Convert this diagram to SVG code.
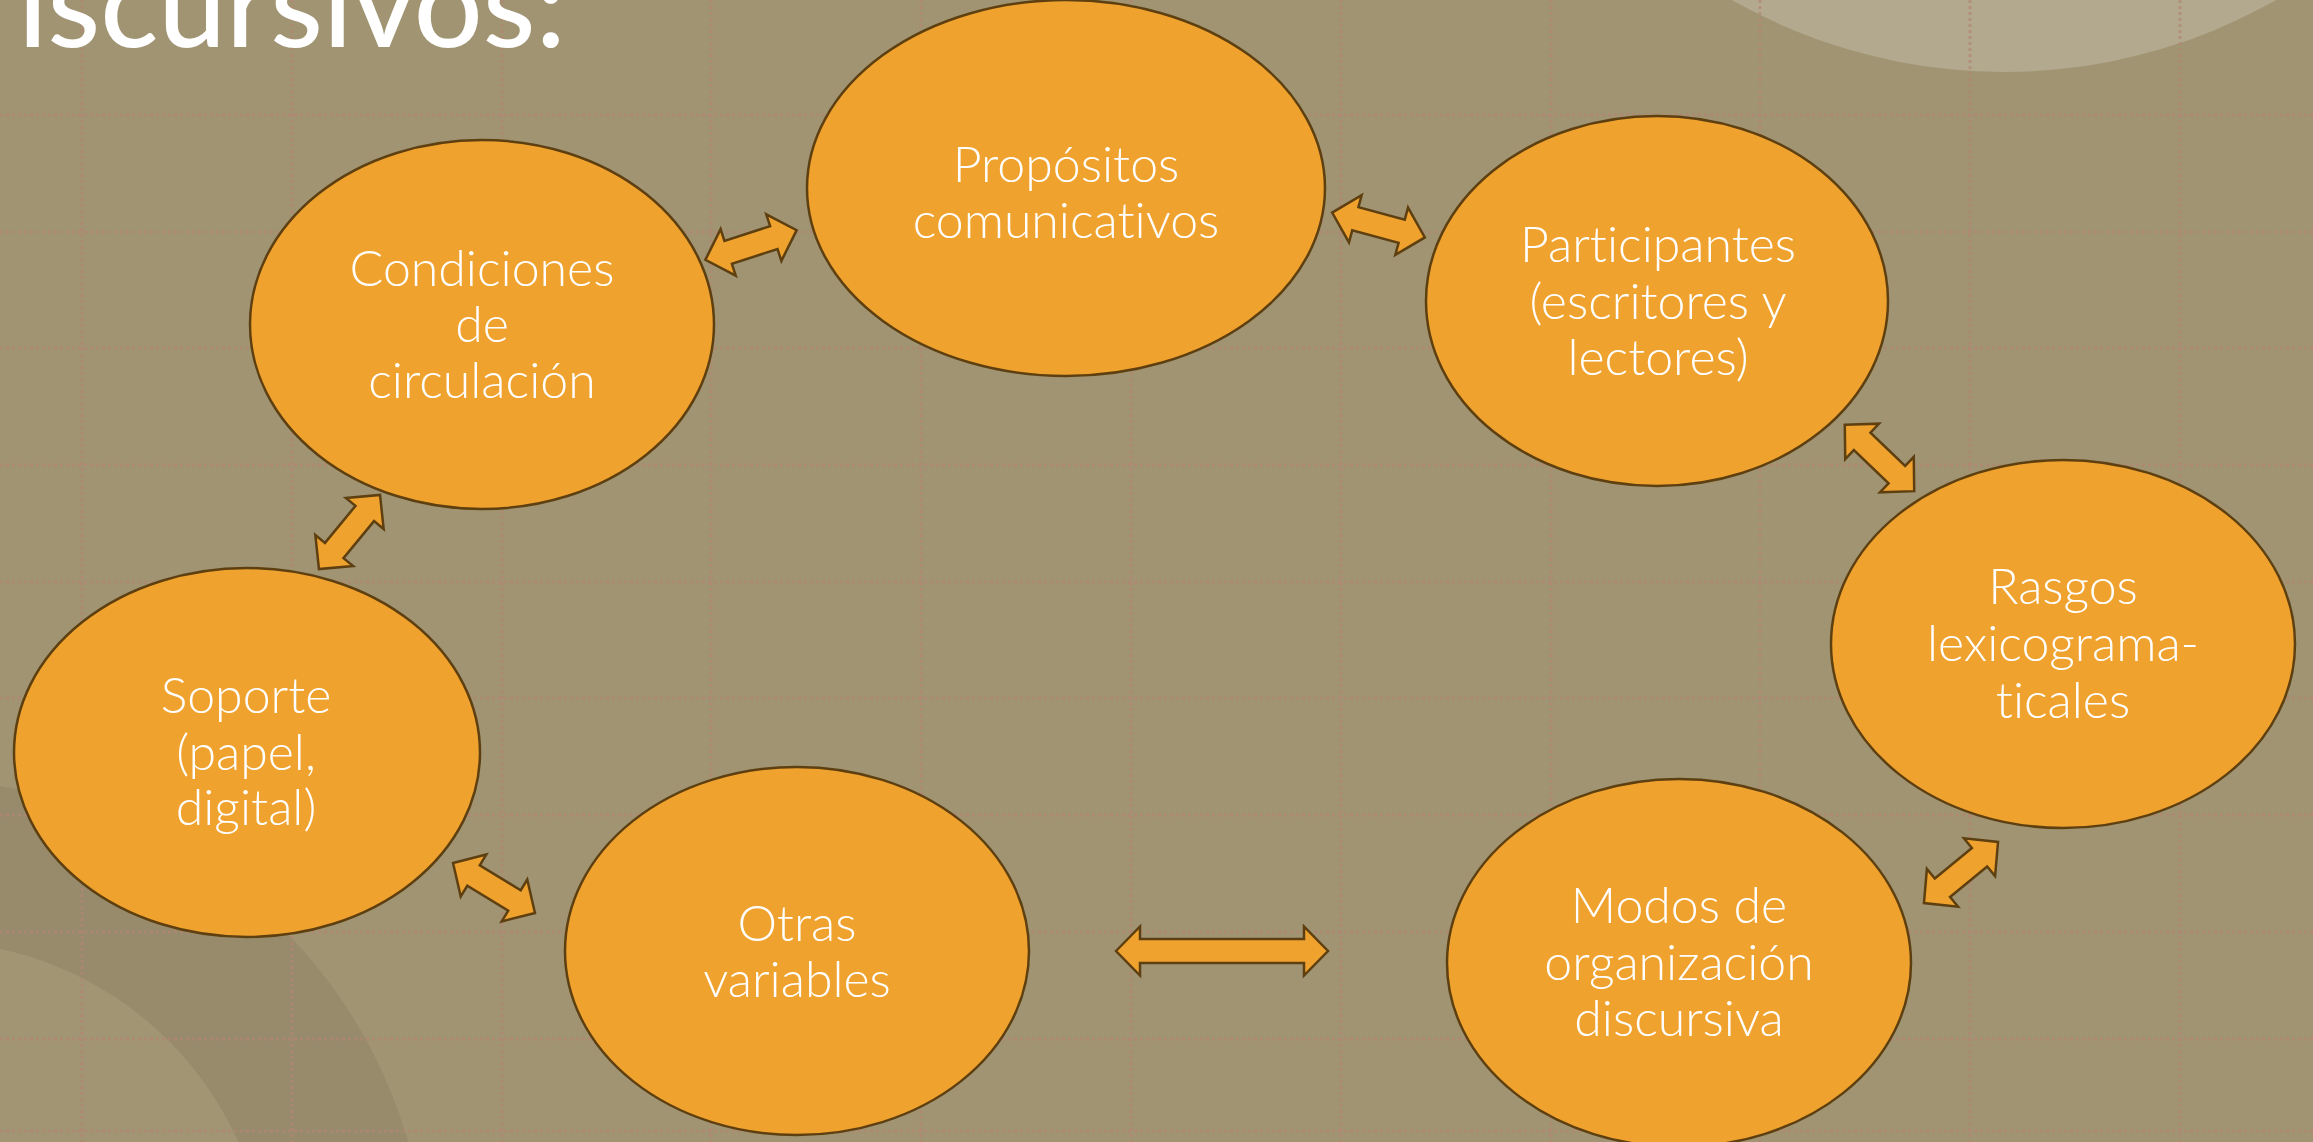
<svg xmlns="http://www.w3.org/2000/svg" xmlns:xlink="http://www.w3.org/1999/xlink" width="2313" height="1142" viewBox="0 0 2313 1142">
  <defs>
    <style>
      .grid line { stroke: rgb(180,134,116); stroke-opacity: 0.7; stroke-width: 3; stroke-dasharray: 3 3; }
      .node ellipse { fill: #F0A22E; stroke: #5E3F10; stroke-width: 2.5; }
      .node text { font-family: "Lato", "Open Sans", "Liberation Sans", sans-serif; font-weight: 300; font-size: 50px; fill: #FFFFFF; text-anchor: middle; font-variant-ligatures: none; }
      .conn { fill: #F0A22E; stroke: #5E3F10; stroke-width: 2.5; stroke-linejoin: miter; }
      .title { font-family: "Lato", "Open Sans", "Liberation Sans", sans-serif; font-weight: 500; font-size: 120px; fill: #FFFFFF; font-variant-ligatures: none; }
    </style>
    <path id="dblArrow" d="M -48 0 L -24 -24.5 L -24 -12 L 24 -12 L 24 -24.5 L 48 0 L 24 24.5 L 24 12 L -24 12 L -24 24.5 Z"/>
  </defs>

  <rect x="0" y="0" width="2313" height="1142" fill="#A09472"/>

  <g id="decor">
    <circle cx="2004" cy="-478" r="550" fill="#B3A98F"/>
    <circle cx="-72" cy="1281" r="500" fill="#978B6C"/>
    <circle cx="-72" cy="1281" r="340" fill="#A29574"/>
  </g>

  <g class="grid" id="grid">
    <line x1="82" y1="0" x2="82" y2="1142"/>
    <line x1="292" y1="0" x2="292" y2="1142"/>
    <line x1="502" y1="0" x2="502" y2="1142"/>
    <line x1="711" y1="0" x2="711" y2="1142"/>
    <line x1="921" y1="0" x2="921" y2="1142"/>
    <line x1="1131" y1="0" x2="1131" y2="1142"/>
    <line x1="1341" y1="0" x2="1341" y2="1142"/>
    <line x1="1551" y1="0" x2="1551" y2="1142"/>
    <line x1="1760" y1="0" x2="1760" y2="1142"/>
    <line x1="1970" y1="0" x2="1970" y2="1142"/>
    <line x1="2180" y1="0" x2="2180" y2="1142"/>
    <line x1="0" y1="115" x2="2313" y2="115"/>
    <line x1="0" y1="232" x2="2313" y2="232"/>
    <line x1="0" y1="348" x2="2313" y2="348"/>
    <line x1="0" y1="465" x2="2313" y2="465"/>
    <line x1="0" y1="582" x2="2313" y2="582"/>
    <line x1="0" y1="698" x2="2313" y2="698"/>
    <line x1="0" y1="815" x2="2313" y2="815"/>
    <line x1="0" y1="932" x2="2313" y2="932"/>
    <line x1="0" y1="1039" x2="2313" y2="1039"/>
    <line x1="0" y1="1131" x2="2313" y2="1131"/>
  </g>

  <text id="title" class="title" x="18" y="47" textLength="548" lengthAdjust="spacingAndGlyphs">iscursivos:</text>

  <g id="node-condiciones" class="node">
    <ellipse cx="482" cy="324.5" rx="232" ry="184.5"/>
    <text x="482" y="286"><tspan x="482" y="286">Condiciones</tspan><tspan x="482" y="342">de</tspan><tspan x="482" y="398">circulación</tspan></text>
  </g>

  <g id="node-propositos" class="node">
    <ellipse cx="1066" cy="188" rx="259" ry="188"/>
    <text x="1066" y="182"><tspan x="1066" y="182">Propósitos</tspan><tspan x="1066" y="238">comunicativos</tspan></text>
  </g>

  <g id="node-participantes" class="node">
    <ellipse cx="1657" cy="301" rx="231" ry="185"/>
    <text x="1658" y="262"><tspan x="1658" y="262">Participantes</tspan><tspan x="1658" y="319">(escritores y</tspan><tspan x="1658" y="375">lectores)</tspan></text>
  </g>

  <g id="node-rasgos" class="node">
    <ellipse cx="2063" cy="644" rx="232" ry="184"/>
    <text x="2063" y="604"><tspan x="2063" y="604">Rasgos</tspan><tspan x="2063" y="661">lexicograma-</tspan><tspan x="2063" y="718">ticales</tspan></text>
  </g>

  <g id="node-modos" class="node">
    <ellipse cx="1679" cy="963" rx="232" ry="184"/>
    <text x="1679" y="923"><tspan x="1679" y="923">Modos de</tspan><tspan x="1679" y="980">organización</tspan><tspan x="1679" y="1036">discursiva</tspan></text>
  </g>

  <g id="node-otras" class="node">
    <ellipse cx="797" cy="951" rx="232" ry="184"/>
    <text x="797" y="941"><tspan x="797" y="941">Otras</tspan><tspan x="797" y="997">variables</tspan></text>
  </g>

  <g id="node-soporte" class="node">
    <ellipse cx="247" cy="752.5" rx="233" ry="184.5"/>
    <text x="246" y="713"><tspan x="246" y="713">Soporte</tspan><tspan x="246" y="770">(papel,</tspan><tspan x="246" y="825">digital)</tspan></text>
  </g>

  <g id="connectors">
    <use xlink:href="#dblArrow" href="#dblArrow" class="conn" transform="translate(751 245) rotate(-18)"/>
    <use xlink:href="#dblArrow" href="#dblArrow" class="conn" transform="translate(1378.5 225) rotate(15)"/>
    <use xlink:href="#dblArrow" href="#dblArrow" class="conn" transform="translate(1879.5 458) rotate(43.7)"/>
    <use xlink:href="#dblArrow" href="#dblArrow" class="conn" transform="translate(1961 872.5) rotate(-39.5)"/>
    <path class="conn" d="M 1116 951 L 1140 926.5 L 1140 939 L 1304 939 L 1304 926.5 L 1328 951 L 1304 975.5 L 1304 963 L 1140 963 L 1140 975.5 Z"/>
    <use xlink:href="#dblArrow" href="#dblArrow" class="conn" transform="translate(494 888) rotate(31.4)"/>
    <use xlink:href="#dblArrow" href="#dblArrow" class="conn" transform="translate(349.5 532) rotate(-50.5)"/>
  </g>
</svg>
